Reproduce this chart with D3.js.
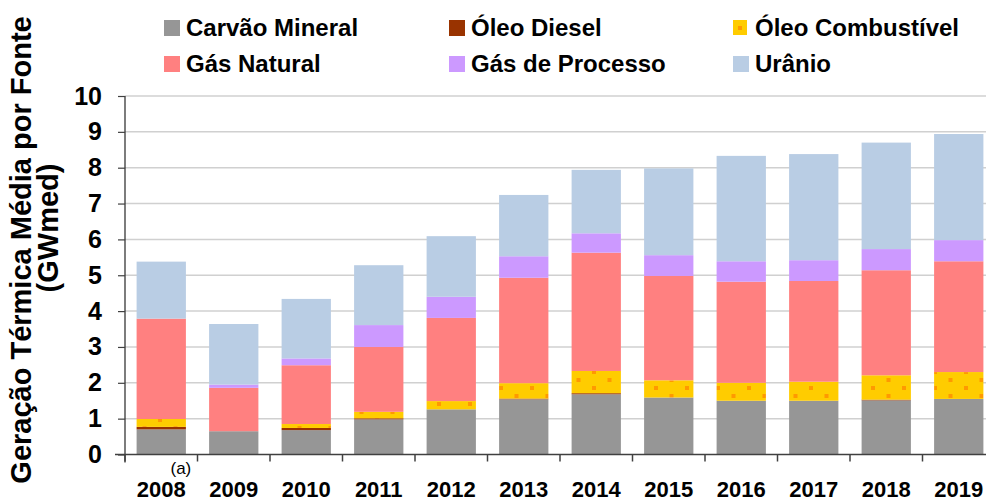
<!DOCTYPE html>
<html>
<head>
<meta charset="utf-8">
<script src="https://cdn.jsdelivr.net/npm/d3@7"></script>
<style>
  body { margin: 0; background: #fff; }
  text { font-family: "Liberation Sans", Arial, sans-serif; }
</style>
</head>
<body>
<svg id="chart" width="986" height="501"></svg>
<script>
// ---------------- data (GWmed) ----------------
var years = ["2008", "2009", "2010", "2011", "2012", "2013", "2014", "2015", "2016", "2017", "2018", "2019"];
var carvaoMineral   = [0.70, 0.65, 0.68, 0.98, 1.26, 1.54, 1.68, 1.59, 1.50, 1.50, 1.51, 1.55];
var oleoDiesel      = [0.07, 0.00, 0.06, 0.03, 0.00, 0.02, 0.03, 0.00, 0.00, 0.00, 0.02, 0.00];
var oleoCombustivel = [0.22, 0.00, 0.11, 0.18, 0.23, 0.43, 0.62, 0.48, 0.50, 0.53, 0.68, 0.75];
var gasNatural      = [2.80, 1.21, 1.64, 1.81, 2.32, 2.94, 3.30, 2.91, 2.82, 2.81, 2.93, 3.09];
var gasProcesso     = [0.00, 0.09, 0.19, 0.61, 0.59, 0.60, 0.54, 0.58, 0.57, 0.58, 0.59, 0.59];
var uranio          = [1.59, 1.69, 1.66, 1.67, 1.69, 1.71, 1.77, 2.42, 2.94, 2.96, 2.97, 2.96];
var yTicks = [0, 1, 2, 3, 4, 5, 6, 7, 8, 9, 10];

var seriesKeys   = ["carvao", "diesel", "combustivel", "gasNatural", "gasProcesso", "uranio"];
var seriesLabels = ["Carvão Mineral", "Óleo Diesel", "Óleo Combustível", "Gás Natural", "Gás de Processo", "Urânio"];
var seriesColors = ["#969696", "#993300", "url(#oleoPattern)", "#FF8080", "#CC99FF", "#B9CDE4"];

var rows = years.map(function(y, i) {
    return {
        year: y,
        carvao: carvaoMineral[i],
        diesel: oleoDiesel[i],
        combustivel: oleoCombustivel[i],
        gasNatural: gasNatural[i],
        gasProcesso: gasProcesso[i],
        uranio: uranio[i]
    };
});

// ---------------- layout ----------------
var svg = d3.select("#chart");
var plot = {left: 125, right: 995, top: 96, bottom: 454.5};

var x = d3.scaleBand().domain(years)
    .range([plot.left, plot.right])
    .paddingInner(0.32).paddingOuter(0.16);
var y = d3.scaleLinear().domain([0, 10]).range([plot.bottom, plot.top]);

// pattern for Óleo Combustível (yellow with orange dots)
var defs = svg.append("defs");
var pat = defs.append("pattern")
    .attr("id", "oleoPattern")
    .attr("patternUnits", "userSpaceOnUse")
    .attr("width", 31).attr("height", 16)
    .attr("x", 3).attr("y", 2);
pat.append("rect").attr("width", 31).attr("height", 16).attr("fill", "#FFCC00");
pat.append("rect").attr("x", 0).attr("y", 0).attr("width", 4).attr("height", 4).attr("fill", "#FF9900");
pat.append("rect").attr("x", 15.5).attr("y", 8).attr("width", 4).attr("height", 4).attr("fill", "#FF9900");

// gridlines
svg.append("g").selectAll("line")
    .data(yTicks.slice(1))
    .enter().append("line")
    .attr("x1", plot.left).attr("x2", 986)
    .attr("y1", function(d) { return y(d); })
    .attr("y2", function(d) { return y(d); })
    .attr("stroke", "#d0d0d0")
    .attr("stroke-width", 1.5);

// stacked bars
var stacked = d3.stack().keys(seriesKeys)(rows);
svg.append("g").selectAll("g")
    .data(stacked)
    .enter().append("g")
    .attr("fill", function(d, i) { return seriesColors[i]; })
    .selectAll("rect")
    .data(function(d) { return d; })
    .enter().append("rect")
    .attr("x", function(d) { return x(d.data.year); })
    .attr("width", x.bandwidth())
    .attr("y", function(d) { return y(d[1]); })
    .attr("height", function(d) { return y(d[0]) - y(d[1]); });

// y axis
var yAxis = svg.append("g")
    .attr("transform", "translate(" + plot.left + ",0)")
    .call(d3.axisLeft(y).tickValues(yTicks).tickSize(7).tickPadding(16).tickFormat(d3.format("d")));
yAxis.select(".domain").attr("stroke", "#262626").attr("stroke-width", 1.2)
    .attr("d", "M0," + plot.top + "V" + (plot.bottom + 8));
yAxis.selectAll(".tick line").attr("stroke", "#404040").attr("stroke-width", 1.2);
yAxis.selectAll(".tick text")
    .attr("font-size", "25px").attr("font-weight", "bold").attr("fill", "#000")
    .attr("font-family", "Liberation Sans, Arial, sans-serif");

// x axis line and category separators
svg.append("line")
    .attr("x1", 115).attr("x2", 986)
    .attr("y1", plot.bottom).attr("y2", plot.bottom)
    .attr("stroke", "#404040").attr("stroke-width", 1.5);
var bounds = d3.range(years.length + 1).map(function(i) { return plot.left + i * x.step(); });
svg.append("g").selectAll("line")
    .data(bounds)
    .enter().append("line")
    .attr("x1", function(d) { return d; }).attr("x2", function(d) { return d; })
    .attr("y1", plot.bottom).attr("y2", plot.bottom + 7)
    .attr("stroke", "#404040").attr("stroke-width", 1.5);

// year labels
svg.append("g").selectAll("text")
    .data(years)
    .enter().append("text")
    .attr("x", function(d) { return x(d) + x.bandwidth() / 2; })
    .attr("y", 497)
    .attr("text-anchor", "middle")
    .attr("font-size", "22px").attr("font-weight", "bold")
    .text(function(d) { return d; });

// footnote under 2008
svg.append("text")
    .attr("x", x("2008") + x.bandwidth() - 5)
    .attr("y", 474)
    .attr("text-anchor", "middle")
    .attr("font-size", "17px")
    .text("(a)");

// y axis title
var yTitle = svg.append("text")
    .attr("transform", "translate(31,250) rotate(-90)")
    .attr("text-anchor", "middle")
    .attr("font-size", "29px").attr("font-weight", "bold");
yTitle.append("tspan").attr("x", 0).attr("y", 0).text("Geração Térmica Média por Fonte");
yTitle.append("tspan").attr("x", 22).attr("y", 27).text("(GWmed)");

// legend
var legendCols = [164, 449, 733];
var legendRows = [36, 72];
var legend = svg.append("g").selectAll("g")
    .data(seriesLabels)
    .enter().append("g")
    .attr("transform", function(d, i) {
        return "translate(" + legendCols[i % 3] + "," + legendRows[Math.floor(i / 3)] + ")";
    });
legend.append("rect")
    .attr("x", 0).attr("y", -16)
    .attr("width", function(d, i) { return i === 2 ? 14 : 16; })
    .attr("height", function(d, i) { return i === 2 ? 15 : 16; })
    .attr("fill", function(d, i) { return i === 2 ? "#FFCC00" : seriesColors[i]; });
legend.filter(function(d, i) { return i === 2; })
    .append("rect")
    .attr("x", 5).attr("y", -10).attr("width", 4).attr("height", 4)
    .attr("fill", "#FF9900");
legend.append("text")
    .attr("x", 22).attr("y", 0)
    .attr("font-size", "24px").attr("font-weight", "bold")
    .text(function(d) { return d; });
</script>
</body>
</html>
